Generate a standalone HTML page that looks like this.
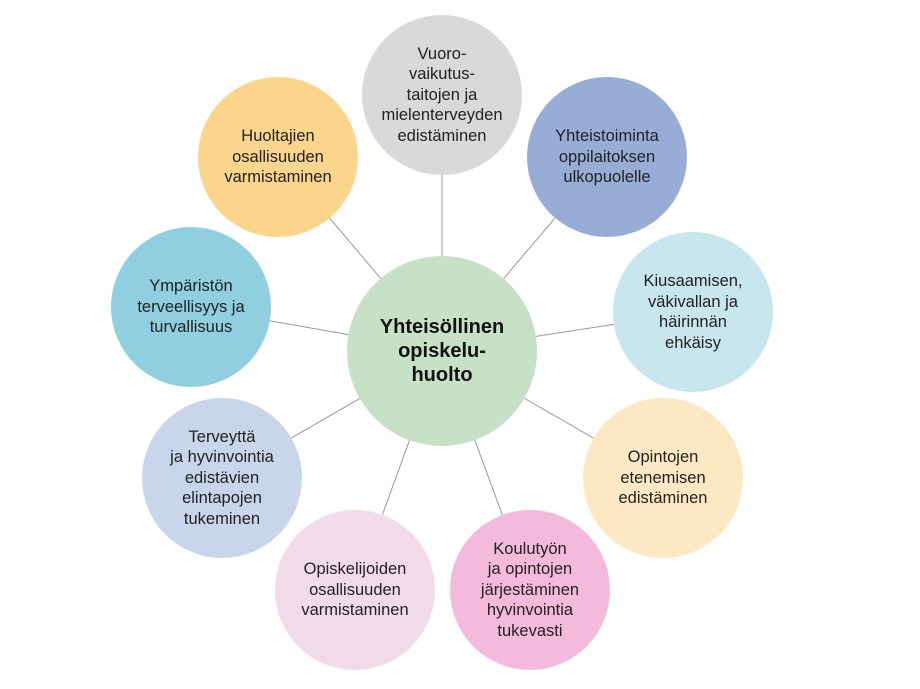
<!DOCTYPE html>
<html><head><meta charset="utf-8"><style>
body{margin:0;width:920px;height:689px;background:#fff;position:relative;overflow:hidden;font-family:"Liberation Sans",sans-serif}
.c{position:absolute;border-radius:50%;display:flex;align-items:center;justify-content:center;text-align:center;color:#222;font-size:16.5px;line-height:20.5px}
svg{position:absolute;left:0;top:0}
</style></head><body>
<svg width="920" height="689"><g stroke="#999" stroke-width="1">
<line x1="442" y1="351" x2="442" y2="95"/>
<line x1="442" y1="351" x2="607" y2="157"/>
<line x1="442" y1="351" x2="693" y2="312"/>
<line x1="442" y1="351" x2="663" y2="478"/>
<line x1="442" y1="351" x2="530" y2="590"/>
<line x1="442" y1="351" x2="355" y2="590"/>
<line x1="442" y1="351" x2="222" y2="478"/>
<line x1="442" y1="351" x2="191" y2="307"/>
<line x1="442" y1="351" x2="278" y2="157"/>
</g></svg>
<div class="c" style="left:362px;top:15px;width:160px;height:160px;background:#d9d9d9">Vuoro-<br>vaikutus-<br>taitojen ja<br>mielenterveyden<br>edistäminen</div>
<div class="c" style="left:527px;top:77px;width:160px;height:160px;background:#97add6">Yhteistoiminta<br>oppilaitoksen<br>ulkopuolelle</div>
<div class="c" style="left:613px;top:232px;width:160px;height:160px;background:#c8e6ee">Kiusaamisen,<br>väkivallan ja<br>häirinnän<br>ehkäisy</div>
<div class="c" style="left:583px;top:398px;width:160px;height:160px;background:#fde8c4">Opintojen<br>etenemisen<br>edistäminen</div>
<div class="c" style="left:450px;top:510px;width:160px;height:160px;background:#f4badc">Koulutyön<br>ja opintojen<br>järjestäminen<br>hyvinvointia<br>tukevasti</div>
<div class="c" style="left:275px;top:510px;width:160px;height:160px;background:#f2dbe9">Opiskelijoiden<br>osallisuuden<br>varmistaminen</div>
<div class="c" style="left:142px;top:398px;width:160px;height:160px;background:#c9d5ea">Terveyttä<br>ja hyvinvointia<br>edistävien<br>elintapojen<br>tukeminen</div>
<div class="c" style="left:111px;top:227px;width:160px;height:160px;background:#90cfdf">Ympäristön<br>terveellisyys ja<br>turvallisuus</div>
<div class="c" style="left:198px;top:77px;width:160px;height:160px;background:#fcd58c">Huoltajien<br>osallisuuden<br>varmistaminen</div>
<div class="c" style="left:347px;top:256px;width:190px;height:190px;background:#c7e1c6;font-weight:bold;font-size:20px;line-height:24px;color:#111">Yhteisöllinen<br>opiskelu-<br>huolto</div>
</body></html>
